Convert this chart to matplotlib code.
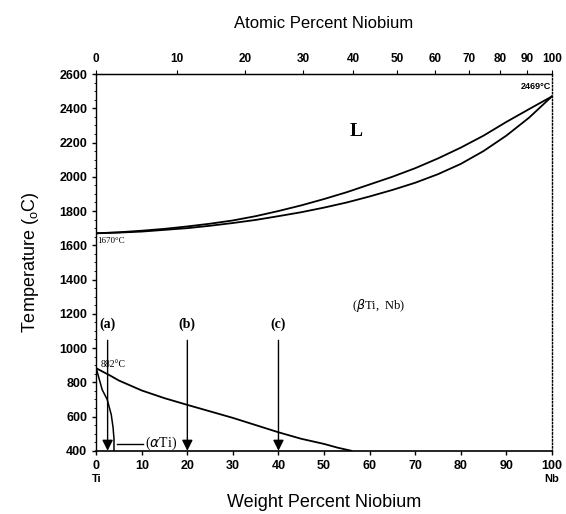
import matplotlib
matplotlib.use("Agg")
import matplotlib.pyplot as plt
import numpy as np

# Ti-Nb phase diagram
liq_wt = [0, 5, 10, 15, 20, 25, 30, 35, 40, 45, 50, 55, 60, 65, 70, 75, 80, 85, 90, 95, 100]
liq_T = [1670, 1676, 1685, 1696, 1710, 1726, 1745, 1770, 1800, 1833, 1870, 1910, 1955,
         2000, 2050, 2107, 2170, 2240, 2320, 2395, 2469]
sol_wt = [0, 5, 10, 15, 20, 25, 30, 35, 40, 45, 50, 55, 60, 65, 70, 75, 80, 85, 90, 95, 100]
sol_T = [1670, 1674, 1680, 1690, 1700, 1714, 1730, 1748, 1770, 1793, 1820, 1850, 1885,
         1923, 1965, 2015, 2075, 2150, 2240, 2345, 2469]

# beta transus and alpha boundary
bt_wt = [0, 3, 5, 10, 15, 20, 25, 30, 35, 40, 45, 50, 53, 56]
bt_T = [882, 840, 810, 752, 707, 668, 630, 592, 550, 508, 470, 440, 418, 400]
al_wt = [0, 1.3, 2.4, 3.3, 3.7, 3.9, 3.9]
al_T = [882, 757, 700, 611, 535, 470, 400]

# compositions marked with arrows
arrow_wt = [2.5, 20, 40]
arrow_lab = ['(a)', '(b)', '(c)']

wt_ticks = [0, 10, 20, 30, 40, 50, 60, 70, 80, 90, 100]
at_ticks = [0, 10, 20, 30, 40, 50, 60, 70, 80, 90, 100]
T_ticks = [400, 600, 800, 1000, 1200, 1400, 1600, 1800, 2000, 2200, 2400, 2600]

M_TI = 47.867
M_NB = 92.906


def wt_to_at(w):
    w = np.clip(np.asarray(w, dtype=float), 0, 100)
    n_nb = w / M_NB
    n_ti = (100 - w) / M_TI
    return 100 * n_nb / (n_nb + n_ti)


def at_to_wt(a):
    a = np.clip(np.asarray(a, dtype=float), 0, 100)
    m_nb = a * M_NB
    m_ti = (100 - a) * M_TI
    return 100 * m_nb / (m_nb + m_ti)


plt.rcParams['font.family'] = ['Liberation Sans', 'DejaVu Sans']
serif = ['Liberation Serif', 'DejaVu Serif']

fig = plt.figure(figsize=(5.66, 5.14), dpi=100)
ax = fig.add_axes([0.170, 0.123, 0.805, 0.733])

ax.plot(liq_wt, liq_T, color='k', lw=1.3)
ax.plot(sol_wt, sol_T, color='k', lw=1.3)
ax.plot(bt_wt, bt_T, color='k', lw=1.3)
ax.plot(al_wt, al_T, color='k', lw=1.1)

for x, lab in zip(arrow_wt, arrow_lab):
    ax.annotate('', xy=(x, 400), xytext=(x, 1045),
                arrowprops=dict(arrowstyle='-|>', color='k', lw=1.0,
                                mutation_scale=16, shrinkA=0, shrinkB=0))
    ax.text(x, 1140, lab, family=serif, fontsize=10, fontweight='bold',
            ha='center', va='center')

# (alpha Ti) label with its leader line
ax.plot([4.6, 10.3], [441, 441], color='k', lw=1.0)
ax.text(10.6, 441, r'($\alpha$Ti)', family=serif, fontsize=10,
        ha='left', va='center')

ax.text(57, 2262, 'L', family=serif, fontsize=14, fontweight='bold',
        ha='center', va='center')
ax.text(62, 1246, r'($\beta$Ti,  Nb)', family=serif, fontsize=9,
        ha='center', va='center')
ax.text(0.3, 1625, '1670°C', family=serif, fontsize=6.5, ha='left', va='center')
ax.text(1.0, 905, '882°C', family=serif, fontsize=7, ha='left', va='center')
ax.text(99.8, 2525, '2469°C', fontsize=6.5, fontweight='bold',
        ha='right', va='center')

ax.set_xlim(0, 100)
ax.set_ylim(400, 2600)
ax.set_xticks(wt_ticks)
ax.set_yticks(T_ticks)
ax.set_yticks(np.arange(400, 2601, 50), minor=True)
ax.tick_params(axis='both', labelsize=9, direction='out', length=3, width=1)
ax.tick_params(axis='y', which='minor', length=1.5, width=0.6)
for lab in ax.get_xticklabels() + ax.get_yticklabels():
    lab.set_fontweight('bold')

ax.spines['right'].set_linestyle((0, (1, 1.5)))
ax.spines['right'].set_linewidth(1.0)
ax.spines['top'].set_linewidth(1.0)
ax.spines['left'].set_linewidth(1.0)
ax.spines['bottom'].set_linewidth(1.2)

ax.set_xlabel('Weight Percent Niobium', fontsize=13, labelpad=16)
ax.set_ylabel('Temperature ($_\\mathregular{o}$C)', fontsize=13, labelpad=13)

ax.text(0, -0.075, 'Ti', transform=ax.get_xaxis_transform(), fontsize=8,
        fontweight='bold', ha='center', va='center')
ax.text(100, -0.075, 'Nb', transform=ax.get_xaxis_transform(), fontsize=8,
        fontweight='bold', ha='center', va='center')

top = ax.secondary_xaxis('top', functions=(wt_to_at, at_to_wt))
top.set_xticks(at_ticks)
top.tick_params(labelsize=8.5, length=3, direction='out')
for lab in top.get_xticklabels():
    lab.set_fontweight('bold')
top.set_xlabel('Atomic Percent Niobium', fontsize=12, labelpad=18)

fig.savefig('out.png', dpi=100)
